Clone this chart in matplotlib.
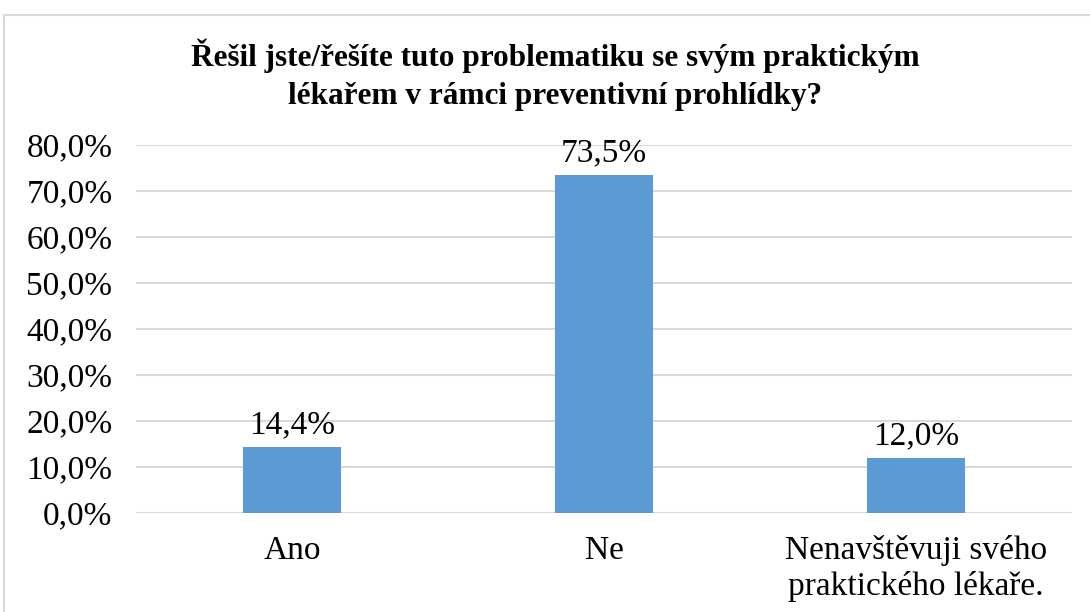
import matplotlib.pyplot as plt
from matplotlib.patches import Rectangle

# data
kategorie = ['Ano', 'Ne', 'Nenavštěvuji svého\npraktického lékaře.']
hodnoty = [14.4, 73.5, 12.0]
titulek = 'Řešil jste/řešíte tuto problematiku se svým praktickým\nlékařem v rámci preventivní prohlídky?'

plt.rcParams['font.family'] = ['Liberation Serif', 'DejaVu Serif']

fig = plt.figure(figsize=(10.9, 6.12), dpi=100)
ax = fig.add_axes([136 / 1090, 1 - 513 / 612, 936 / 1090, 368 / 612])

# ramecek grafu
fig.patches.append(Rectangle((4 / 1090, -0.1), 1.2, 1 - 15 / 612 + 0.1, transform=fig.transFigure,
                             fill=False, edgecolor='#d9d9d9', linewidth=1.5))

x = range(len(kategorie))
bars = ax.bar(x, hodnoty, width=0.314, color='#5b9bd5', zorder=3)

for b, v in zip(bars, hodnoty):
    ax.annotate(f'{v:.1f}%'.replace('.', ','), (b.get_x() + b.get_width() / 2, v),
                xytext=(0, 5), textcoords='offset points', ha='center', va='bottom', fontsize=24)

ax.set_xlim(-0.5, 2.5)
ax.set_ylim(0, 80)
yt = [i * 10 for i in range(9)]
ax.set_yticks(yt)
ax.set_yticklabels([f'{t:.1f}%'.replace('.', ',') for t in yt], fontsize=24)
ax.set_xticks(list(x))
ax.set_xticklabels(kategorie, fontsize=24, linespacing=1.2)
ax.tick_params(axis='both', length=0)
ax.tick_params(axis='x', pad=16)
ax.tick_params(axis='y', pad=17)
ax.yaxis.grid(True, color='#d9d9d9', linewidth=1.5, zorder=0)
for s in ax.spines.values():
    s.set_visible(False)

fig.text(555 / 1090, 1 - 75 / 612, titulek, ha='center', va='center', fontsize=22.5,
         fontweight='bold', linespacing=1.4)

fig.savefig('out.png', dpi=100)
